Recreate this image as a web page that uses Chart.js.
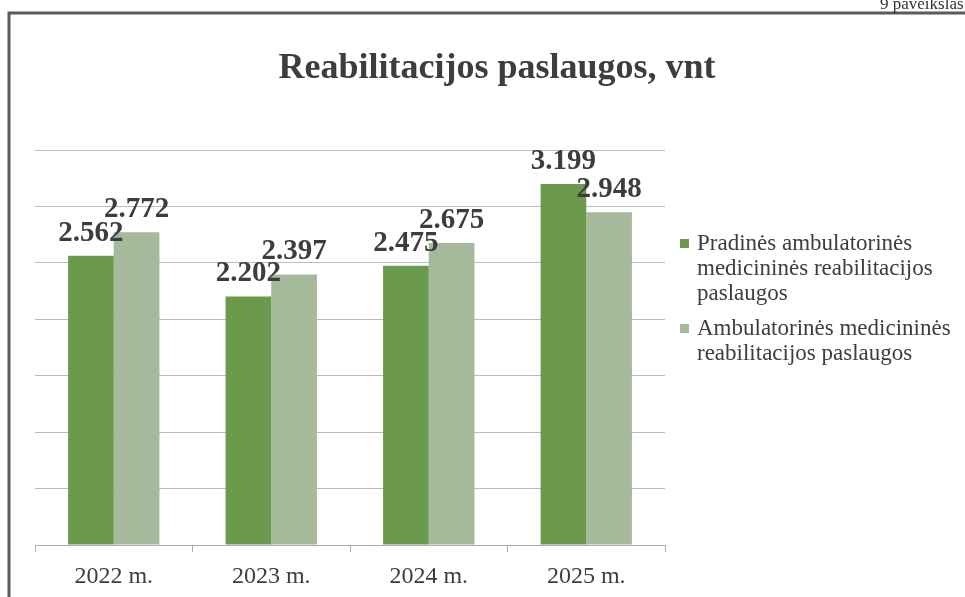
<!DOCTYPE html>
<html>
<head>
<meta charset="utf-8">
<title>Reabilitacijos paslaugos</title>
<script src="https://cdn.jsdelivr.net/npm/chart.js@4/dist/chart.umd.min.js"></script>
<style>
    html, body { margin: 0; padding: 0; background: #fff; }
    #wrap { position: relative; width: 965px; height: 597px; }
</style>
</head>
<body>
<div id="wrap"><canvas id="myChart" width="965" height="597"></canvas></div>
<script>
// duomenys
var chartTitle = 'Reabilitacijos paslaugos, vnt';
var years = ['2022 m.', '2023 m.', '2024 m.', '2025 m.'];
var pradines = [2562, 2202, 2475, 3199];
var ambulatorines = [2772, 2397, 2675, 2948];
var legendLines = [
    ['Pradinės ambulatorinės', 'medicininės reabilitacijos', 'paslaugos'],
    ['Ambulatorinės medicininės', 'reabilitacijos paslaugos']
];
var yTicks = [0, 500, 1000, 1500, 2000, 2500, 3000, 3500];

var textColor = '#3d3d3d';
var serif = '"Liberation Serif", "DejaVu Serif", serif';

function fmt(v) {
    return String(v).replace(/\B(?=(\d{3})+(?!\d))/g, '.');
}

// rėmelis, antraštė
var framePlugin = {
    id: 'frame',
    beforeDraw: function(chart) {
        var c = chart.ctx;
        c.save();
        c.fillStyle = '#fff';
        c.fillRect(0, 0, chart.width, chart.height);
        c.strokeStyle = '#5b5b5b';
        c.lineWidth = 3;
        c.beginPath();
        c.moveTo(9, 597);
        c.lineTo(9, 13);
        c.lineTo(965, 13);
        c.stroke();
        c.fillStyle = '#333';
        c.font = '17px ' + serif;
        c.textBaseline = 'alphabetic';
        c.fillText('9 paveikslas', 880, 9);

        c.fillStyle = textColor;
        c.font = 'bold 36px ' + serif;
        c.textAlign = 'center';
        c.textBaseline = 'middle';
        c.fillText(chartTitle, 497, 69);
        c.restore();
    }
};

// reikšmės virš stulpelių
var valuePlugin = {
    id: 'values',
    afterDatasetsDraw: function(chart) {
        var c = chart.ctx;
        c.save();
        c.font = 'bold 29px ' + serif;
        c.fillStyle = textColor;
        c.textAlign = 'center';
        c.textBaseline = 'bottom';
        chart.data.datasets.forEach(function(ds, i) {
            var meta = chart.getDatasetMeta(i);
            meta.data.forEach(function(bar, j) {
                c.fillText(fmt(ds.data[j]), bar.x, bar.y - 8);
            });
        });
        c.restore();
    }
};

// legenda dešinėje
var legendPlugin = {
    id: 'sideLegend',
    afterDraw: function(chart) {
        var c = chart.ctx;
        var x = chart.chartArea.right + 15;
        var y = 244;
        c.save();
        c.font = '23px ' + serif;
        c.textBaseline = 'middle';
        chart.data.datasets.forEach(function(ds, i) {
            c.fillStyle = ds.backgroundColor;
            c.fillRect(x, y - 5, 9, 9);
            c.fillStyle = textColor;
            legendLines[i].forEach(function(line, k) {
                c.fillText(line, x + 17, y + k * 25);
            });
            y += legendLines[i].length * 25 + 10;
        });
        c.restore();
    }
};

var ctx = document.getElementById('myChart');
var myChart = new Chart(ctx, {
    type: 'bar',
    data: {
        labels: years,
        datasets: [{
                label: legendLines[0].join(' '),
                data: pradines,
                backgroundColor: '#6b9a4c',
                borderWidth: 0
            },
            {
                label: legendLines[1].join(' '),
                data: ambulatorines,
                backgroundColor: '#a5b99b',
                borderWidth: 0
            }
        ]
    },
    options: {
        responsive: false,
        animation: false,
        layout: {
            padding: { left: 35, right: 300, bottom: -5, top: 150 }
        },
        datasets: {
            bar: {
                categoryPercentage: 0.58,
                barPercentage: 1.0
            }
        },
        plugins: {
            legend: { display: false },
            tooltip: { enabled: false },
            title: { display: false }
        },
        scales: {
            x: {
                grid: {
                    display: true,
                    drawOnChartArea: false,
                    drawTicks: true,
                    tickLength: 7,
                    color: '#a9adb8'
                },
                border: { display: true, color: '#a9adb8' },
                ticks: {
                    color: textColor,
                    padding: 13,
                    font: { family: serif, size: 24, lineHeight: 1.0 }
                }
            },
            y: {
                min: yTicks[0],
                max: yTicks[yTicks.length - 1],
                afterBuildTicks: function(scale) {
                    scale.ticks = yTicks.map(function(v) { return { value: v }; });
                },
                grid: {
                    color: '#b8bcc8',
                    drawTicks: false
                },
                border: { display: false },
                ticks: { display: false }
            }
        }
    },
    plugins: [framePlugin, valuePlugin, legendPlugin]
});
</script>
</body>
</html>
